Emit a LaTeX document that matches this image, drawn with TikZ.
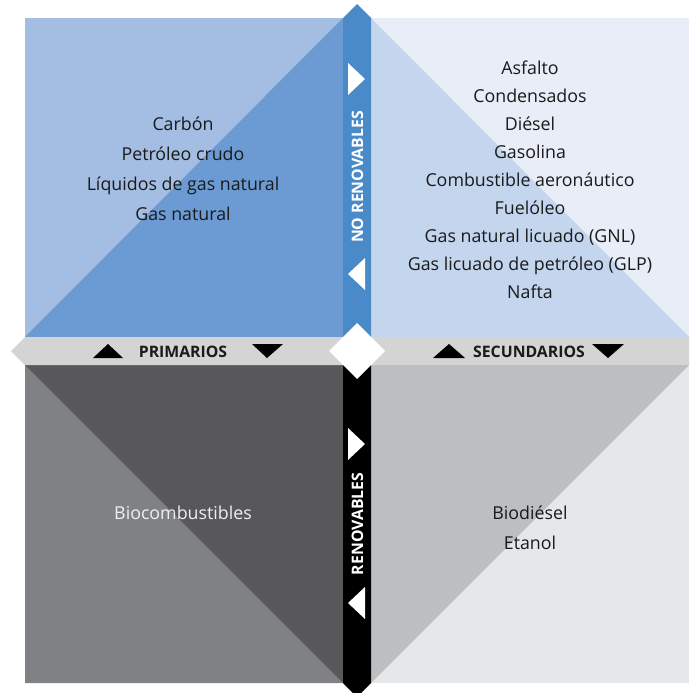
\documentclass[tikz,border=0pt]{standalone}
\usepackage{fontspec}
\setmainfont{Open Sans}
\usepackage{tikz}
\usetikzlibrary{positioning}

\definecolor{tlLight}{HTML}{A3BDE3}
\definecolor{tlDark}{HTML}{6C9BD4}
\definecolor{trLight}{HTML}{E9EDF8}
\definecolor{trDark}{HTML}{C4D5EE}
\definecolor{blLight}{HTML}{808184}
\definecolor{blDark}{HTML}{58585A}
\definecolor{brDark}{HTML}{BDBEC0}
\definecolor{brLight}{HTML}{E6E7E8}
\definecolor{barBlue}{HTML}{4A8AC9}
\definecolor{barGray}{HTML}{D4D4D4}
\definecolor{ink}{HTML}{1A1A1A}

\begin{document}
\begin{tikzpicture}[
  x=1pt, y=-1pt,
  fuellist/.style={font=\fontsize{17.8}{28}\selectfont, align=center, text=ink, inner sep=0pt},
  barlabel/.style={font=\fontsize{15.8}{16}\selectfont\bfseries, text=ink, inner sep=0pt},
  vlabel/.style={font=\fontsize{15.8}{16}\selectfont\bfseries, text=white, rotate=90, inner sep=0pt},
  tri/.style={fill=white},
  htri/.style={fill=black}
]
\useasboundingbox (0,0) rectangle (689,693);
\clip (0,0) rectangle (689,693);

% Quadrants (each split along its diagonal)
\fill[tlLight] (25,18) rectangle (343,337);
\fill[tlDark] (25,337) -- (343,18) -- (343,337) -- cycle;
\fill[trLight] (371,18) rectangle (689,337);
\fill[trDark] (371,18) -- (689,337) -- (371,337) -- cycle;
\fill[blDark] (25,365) rectangle (343,683);
\fill[blLight] (25,365) -- (343,683) -- (25,683) -- cycle;
\fill[brLight] (371,365) rectangle (689,683);
\fill[brDark] (371,365) -- (689,365) -- (371,683) -- cycle;

% Vertical bar
\fill[barBlue] (343,351) -- (343,18) -- (357,4) -- (371,18) -- (371,351) -- cycle;
\fill[black] (343,351) -- (343,683) -- (357,697) -- (371,683) -- (371,351) -- cycle;

% Horizontal bar
\fill[barGray] (25,337) -- (11,351) -- (25,365) -- (689,365) -- (703,351) -- (689,337) -- cycle;

% Centre diamond
\fill[white] (357,323) -- (385,351) -- (357,379) -- (329,351) -- cycle;

% Arrow marks on the bars
\fill[tri] (348,63) -- (365,79) -- (348,95) -- cycle;
\fill[tri] (365,258) -- (348,274) -- (365,290) -- cycle;
\fill[tri] (348,428) -- (365,444) -- (348,460) -- cycle;
\fill[tri] (365,587) -- (348,603) -- (365,619) -- cycle;
\fill[htri] (93,358) -- (108,344) -- (123,358) -- cycle;
\fill[htri] (252,344) -- (267,358) -- (283,344) -- cycle;
\fill[htri] (433,358) -- (449,344) -- (465,358) -- cycle;
\fill[htri] (592,344) -- (608,358) -- (624,344) -- cycle;

% Bar labels
\node[barlabel] (prim) at (183,351.5) {PRIMARIOS};
\node[barlabel] (secu) at (529,351.5) {SECUNDARIOS};
\node[vlabel] (norenov) at (357.5,177) {NO RENOVABLES};
\node[vlabel] (renov) at (357.5,524) {RENOVABLES};

% Fuel lists
\node[fuellist, font=\fontsize{17.8}{30}\selectfont] (primnr) at (183,169) {Carbón\\Petróleo crudo\\Líquidos de gas natural\\Gas natural};
\node[fuellist] (secunr) at (530,180) {Asfalto\\Condensados\\Diésel\\Gasolina\\Combustible aeronáutico\\Fuelóleo\\Gas natural licuado (GNL)\\Gas licuado de petróleo (GLP)\\Nafta};
\node[fuellist, text=white!94!black] (primr) at (183,513) {Biocombustibles};
\node[fuellist, font=\fontsize{17.8}{30}\selectfont] (secur) at (530,528) {Biodiésel\\Etanol};

\end{tikzpicture}
\end{document}
